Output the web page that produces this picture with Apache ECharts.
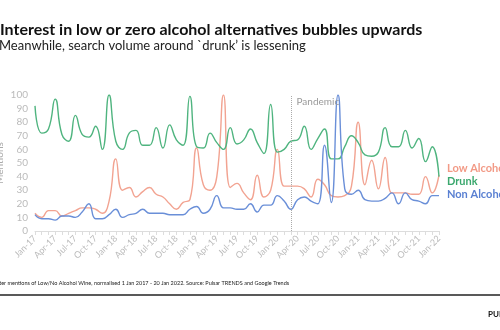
<!DOCTYPE html>
<html><head><meta charset="utf-8">
<script src="https://cdn.jsdelivr.net/npm/echarts@6/dist/echarts.min.js"></script>
<style>html,body{margin:0;padding:0;background:#fff}#c{width:500px;height:330px}</style>
</head><body><div id="c"></div>
<script>
const months = ['Jan','Feb','Mar','Apr','May','Jun','Jul','Aug','Sep','Oct','Nov','Dec'];
const categories = [];
for (let y = 17; y <= 22; y++) for (let m = 0; m < 12; m++) { if (y === 22 && m > 0) break; categories.push(months[m] + '-' + y); }

const drunk = [92,72,75,97,71,66,85,71,69,77,60,100,66,60,72,74,63,63,76,61,78,67,63,99,62,61,72,65,60,76,64,67,75,65,57,93,58,60,66,67,77,60,68,75,53,53,62,70,65,56,55,58,76,62,62,74,61,68,51,62,40];
const lowAlcohol = [13,10,15,15,11,13,15,17,17,16,13,22,53,30,32,25,29,32,27,25,20,16,21,23,61,34,30,40,100,32,35,28,23,41,25,30,60,33,33,33,31,25,38,34,26,25,26,33,80,34,52,31,54,28,28,28,27,27,40,28,41];
const nonAlcohol = [12,9,9,8,11,11,10,14,20,9,9,12,16,10,12,13,16,13,13,13,12,12,12,16,18,13,16,26,17,17,16,16,20,14,19,19,26,22,16,23,25,22,20,63,21,100,31,27,30,23,22,22,24,28,20,28,23,22,20,26,26];
const seriesNames = ['Low Alcohol','Drunk','Non Alcohol'];
const pandemicMonth = 'Mar-20';

const chart = echarts.init(document.getElementById('c'), null, {renderer:'canvas'});
const FONT = 'Lato';
function endLbl(color, dy) {
  return {show:true, formatter:'{a}', color:color, fontFamily:FONT, fontSize:11, fontWeight:'bold', distance:8, offset:[0,dy]};
}
chart.setOption({
  animation:false,
  textStyle:{fontFamily:FONT},
  title:[
    {text:'Interest in low or zero alcohol alternatives bubbles upwards', left:0, top:22, padding:0,
     textStyle:{fontFamily:FONT, fontSize:16, fontWeight:'bold', color:'#111'}},
    {text:'Meanwhile, search volume around `drunk\u2019 is lessening', left:-1, top:39, padding:0,
     textStyle:{fontFamily:FONT, fontSize:13, fontWeight:'normal', color:'#222'}}
  ],
  grid:{left:35, right:61, top:95, bottom:99, containLabel:false, outerBoundsMode:'none'},
  xAxis:{type:'category', data:categories, boundaryGap:false,
    axisLine:{lineStyle:{color:'#ddd'}},
    axisTick:{show:true, interval:0, length:4, lineStyle:{color:'#ddd'}},
    axisLabel:{interval:2, rotate:45, color:'#bbb', fontSize:9, margin:6}},
  yAxis:{type:'value', min:0, max:100, interval:10, name:'Mentions', nameLocation:'middle', nameGap:30,
    nameMoveOverlap:false,
    nameTextStyle:{color:'#aaa', fontSize:10},
    splitLine:{show:false}, axisLine:{show:false}, axisTick:{show:false},
    axisLabel:{color:'#bbb', fontSize:10, margin:7}},
  series:[
    {name:seriesNames[0], type:'line', data:lowAlcohol, smooth:0.5, showSymbol:false,
     lineStyle:{color:'#f2a391', width:1.4}, itemStyle:{color:'#f2a391'},
     endLabel:endLbl('#f29a86',-7),
     markLine:{silent:true, symbol:'none', data:[{xAxis:pandemicMonth}],
       lineStyle:{color:'#aaa', type:'dotted', width:1},
       label:{show:true, position:'end', formatter:'Pandemic', color:'#999', fontSize:10, offset:[27,17]}}},
    {name:seriesNames[1], type:'line', data:drunk, smooth:0.5, showSymbol:false,
     lineStyle:{color:'#4fb47f', width:1.4}, itemStyle:{color:'#4fb47f'},
     endLabel:endLbl('#3ba86e',5)},
    {name:seriesNames[2], type:'line', data:nonAlcohol, smooth:0.5, showSymbol:false,
     lineStyle:{color:'#6a8fd8', width:1.4}, itemStyle:{color:'#6a8fd8'},
     endLabel:endLbl('#5a80d2',-1)}
  ],
  graphic:[
    {type:'line', shape:{x1:0,y1:295,x2:500,y2:295}, style:{stroke:'#222', lineWidth:1.5}},
    {type:'text', left:-11, top:280, style:{text:'Twitter mentions of Low/No Alcohol Wine, normalised 1 Jan 2017 - 20 Jan 2022. Source: Pulsar TRENDS and Google Trends', fill:'#222', font:'5.5px Lato'}},
    {type:'text', left:488, top:310, style:{text:'PULSAR', fill:'#111', font:'bold 8px Lato'}}
  ]
});
</script></body></html>
